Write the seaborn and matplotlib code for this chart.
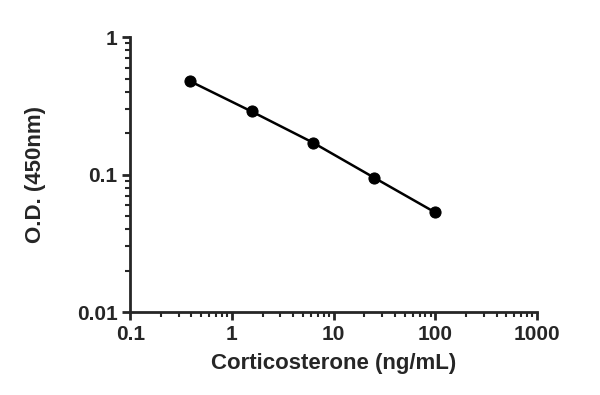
import matplotlib
matplotlib.use("Agg")
import matplotlib.pyplot as plt
import matplotlib.ticker as mticker
import seaborn as sns
import pandas as pd

# standard curve
conc = [0.39, 1.56, 6.25, 25, 100]
od = [0.477, 0.288, 0.171, 0.095, 0.053]

sns.set_style("ticks")
plt.rcParams['font.family'] = ['Liberation Sans', 'DejaVu Sans']
plt.rcParams['font.weight'] = 'bold'

df = pd.DataFrame({'conc': conc, 'od': od})

fig, ax = plt.subplots(figsize=(6, 3.95), dpi=100)
fig.subplots_adjust(left=0.217, right=0.895, top=0.906, bottom=0.21)

sns.lineplot(data=df, x='conc', y='od', ax=ax, color='black', linewidth=1.8,
             marker='o', markersize=8, markeredgecolor='black')

ax.set_xscale('log')
ax.set_yscale('log')
ax.set_xlim(0.1, 1000)
ax.set_ylim(0.01, 1)
ax.xaxis.set_major_formatter(mticker.FuncFormatter(lambda v, p: f'{v:g}'))
ax.yaxis.set_major_formatter(mticker.FuncFormatter(lambda v, p: f'{v:g}'))
ax.xaxis.set_minor_locator(mticker.LogLocator(base=10, subs=range(2, 10)))
ax.yaxis.set_minor_locator(mticker.LogLocator(base=10, subs=range(2, 10)))
ax.xaxis.set_minor_formatter(mticker.NullFormatter())
ax.yaxis.set_minor_formatter(mticker.NullFormatter())

for s in ['left', 'bottom']:
    ax.spines[s].set_linewidth(2)
sns.despine(ax=ax)
ax.tick_params(which='major', length=6, width=2, labelsize=15, pad=3)
ax.tick_params(which='minor', length=3.5, width=1.5)

ax.set_xlabel('Corticosterone (ng/mL)', fontsize=16, fontweight='bold', labelpad=7)
ax.set_ylabel('O.D. (450nm)', fontsize=16, fontweight='bold', labelpad=22)

fig.savefig('out.png', dpi=100)
